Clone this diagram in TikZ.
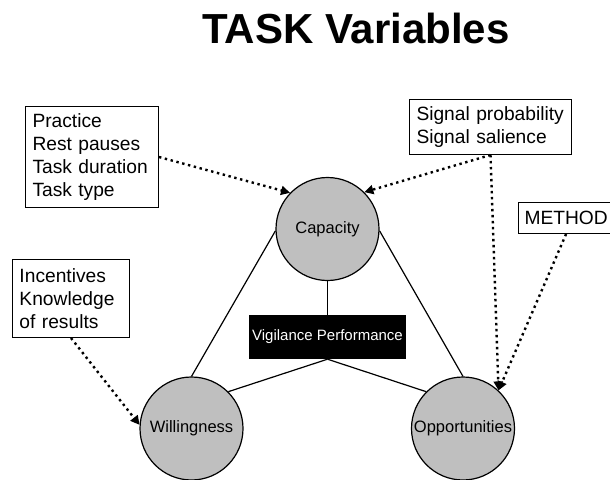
\documentclass[tikz,border=0pt]{standalone}
\usepackage{fontspec}
\setmainfont{Liberation Sans}
\usetikzlibrary{arrows.meta}

\begin{document}
\begin{tikzpicture}[x=1pt,y=-1pt,
  factor/.style={circle,draw,line width=1.2pt,fill=black!25,
    minimum size=103pt,inner sep=0pt,font=\fontsize{16.5}{18}\selectfont},
  varbox/.style={draw,line width=1pt,align=left,anchor=north west,
    inner xsep=7pt,font=\fontsize{19.2}{23}\selectfont},
  link/.style={line width=1.2pt},
  influence/.style={line width=2.4pt,dash pattern=on 2.4pt off 3.6pt,
    -{Triangle[length=9pt,width=9pt]}}]
  % Page frame
  \useasboundingbox (0,0) rectangle (610,479);
  %
  % Title
  \node[anchor=base,font=\fontsize{42}{48}\selectfont\bfseries] (title)
    at (356,43) {TASK Variables};
  %
  % Factors
  \node[factor] (cap)  at (327.5,229)   {Capacity};
  \node[factor] (will) at (191.5,428.5) {Willingness};
  \node[factor] (opp)  at (463,428.5)   {Opportunities};
  \node[fill=black,text=white,minimum width=155pt,minimum height=44pt,
    font=\fontsize{15}{17}\selectfont] (vp) at (327.5,337) {Vigilance Performance};
  %
  % Task variables
  \node[varbox,text width=119pt,minimum height=101pt] (tasks) at (25,106)
    {Practice\\Rest pauses\\Task duration\\Task type};
  \node[varbox,text width=148pt,minimum height=55pt] (signal) at (409,99)
    {Signal probability\\Signal salience};
  \node[varbox,text width=103pt,minimum height=78pt] (incent) at (12,259)
    {Incentives\\Knowledge\\of results};
  \node[varbox,inner xsep=6pt,minimum height=31pt] (method) at (518,202) {METHOD};
  %
  % Links
  \draw[link] (cap.south) -- (vp.north);
  \draw[link] (vp.south) -- (will.45);
  \draw[link] (vp.south) -- (opp.135);
  \draw[link] (cap.182) -- (will.north);
  \draw[link] (cap.-2) -- (opp.north);
  %
  % Influences
  \draw[influence] (tasks.east) -- (cap.136);
  \draw[influence] (signal.south) -- (cap.45);
  \draw[influence] (signal.south) -- (opp.47);
  \draw[influence] (method.south) -- (opp.47);
  \draw[influence] (incent.south) -- (will.176);
\end{tikzpicture}
\end{document}
